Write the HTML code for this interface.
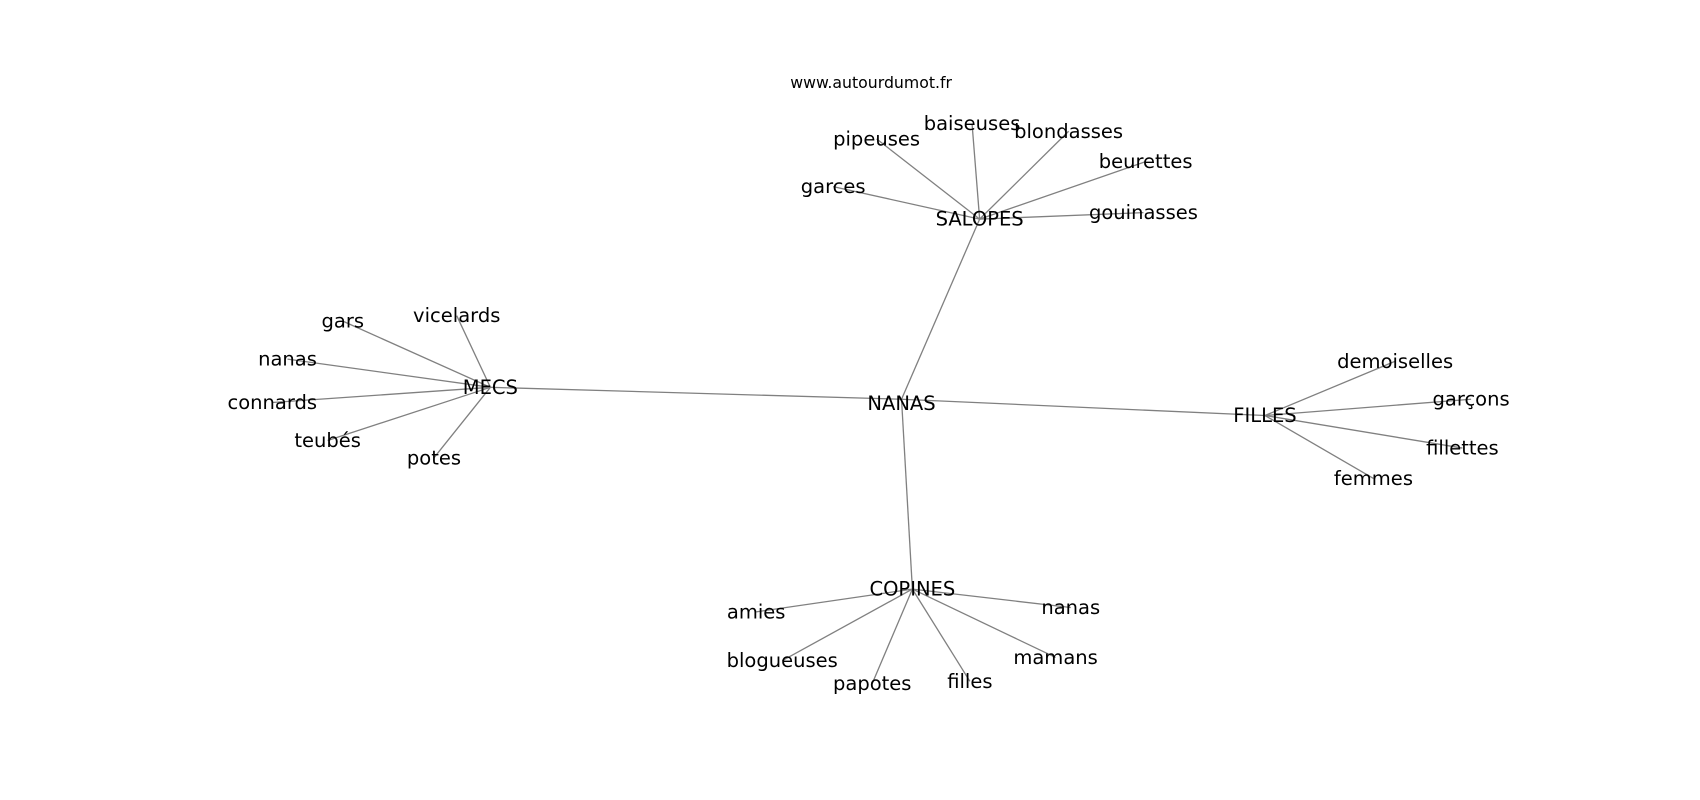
<!DOCTYPE html>
<html><head><meta charset="utf-8"><style>
html,body{margin:0;padding:0;background:#fff;}
svg{display:block;}
svg text{font-family:"DejaVu Sans","Liberation Sans",sans-serif;font-size:18px;fill:#000;text-anchor:middle;dominant-baseline:central;}
</style></head><body>
<svg width="1700" height="800" viewBox="0 0 1567 737.4" preserveAspectRatio="none" xmlns="http://www.w3.org/2000/svg">
<g stroke="#808080" stroke-width="1.2" fill="none">
<line x1="831" y1="368" x2="903" y2="202"/>
<line x1="831" y1="368" x2="452" y2="357"/>
<line x1="831" y1="368" x2="1166" y2="383"/>
<line x1="831" y1="368" x2="841" y2="543"/>
<line x1="903" y1="202" x2="768" y2="172"/>
<line x1="903" y1="202" x2="808" y2="128"/>
<line x1="903" y1="202" x2="896" y2="114"/>
<line x1="903" y1="202" x2="985" y2="121"/>
<line x1="903" y1="202" x2="1056" y2="149"/>
<line x1="903" y1="202" x2="1054" y2="196"/>
<line x1="452" y1="357" x2="316" y2="296"/>
<line x1="452" y1="357" x2="421" y2="291"/>
<line x1="452" y1="357" x2="265" y2="331"/>
<line x1="452" y1="357" x2="251" y2="371"/>
<line x1="452" y1="357" x2="302" y2="406"/>
<line x1="452" y1="357" x2="400" y2="422"/>
<line x1="1166" y1="383" x2="1286" y2="333"/>
<line x1="1166" y1="383" x2="1356" y2="368"/>
<line x1="1166" y1="383" x2="1348" y2="413"/>
<line x1="1166" y1="383" x2="1266" y2="441"/>
<line x1="841" y1="543" x2="697" y2="564"/>
<line x1="841" y1="543" x2="721" y2="609"/>
<line x1="841" y1="543" x2="804" y2="630"/>
<line x1="841" y1="543" x2="894" y2="628"/>
<line x1="841" y1="543" x2="973" y2="606"/>
<line x1="841" y1="543" x2="987" y2="560"/>
</g>
<text x="803" y="76" style="font-size:14.5px">www.autourdumot.fr</text>
<text x="831" y="372">NANAS</text>
<text x="903" y="202">SALOPES</text>
<text x="452" y="357">MECS</text>
<text x="1166" y="383">FILLES</text>
<text x="841" y="543">COPINES</text>
<text x="768" y="172">garces</text>
<text x="808" y="128">pipeuses</text>
<text x="896" y="114">baiseuses</text>
<text x="985" y="121">blondasses</text>
<text x="1056" y="149">beurettes</text>
<text x="1054" y="196">gouinasses</text>
<text x="316" y="296">gars</text>
<text x="421" y="291">vicelards</text>
<text x="265" y="331">nanas</text>
<text x="251" y="371">connards</text>
<text x="302" y="406">teubés</text>
<text x="400" y="422">potes</text>
<text x="1286" y="333">demoiselles</text>
<text x="1356" y="368">garçons</text>
<text x="1348" y="413">fillettes</text>
<text x="1266" y="441">femmes</text>
<text x="697" y="564">amies</text>
<text x="721" y="609">blogueuses</text>
<text x="804" y="630">papotes</text>
<text x="894" y="628">filles</text>
<text x="973" y="606">mamans</text>
<text x="987" y="560">nanas</text>
</svg>
</body></html>
